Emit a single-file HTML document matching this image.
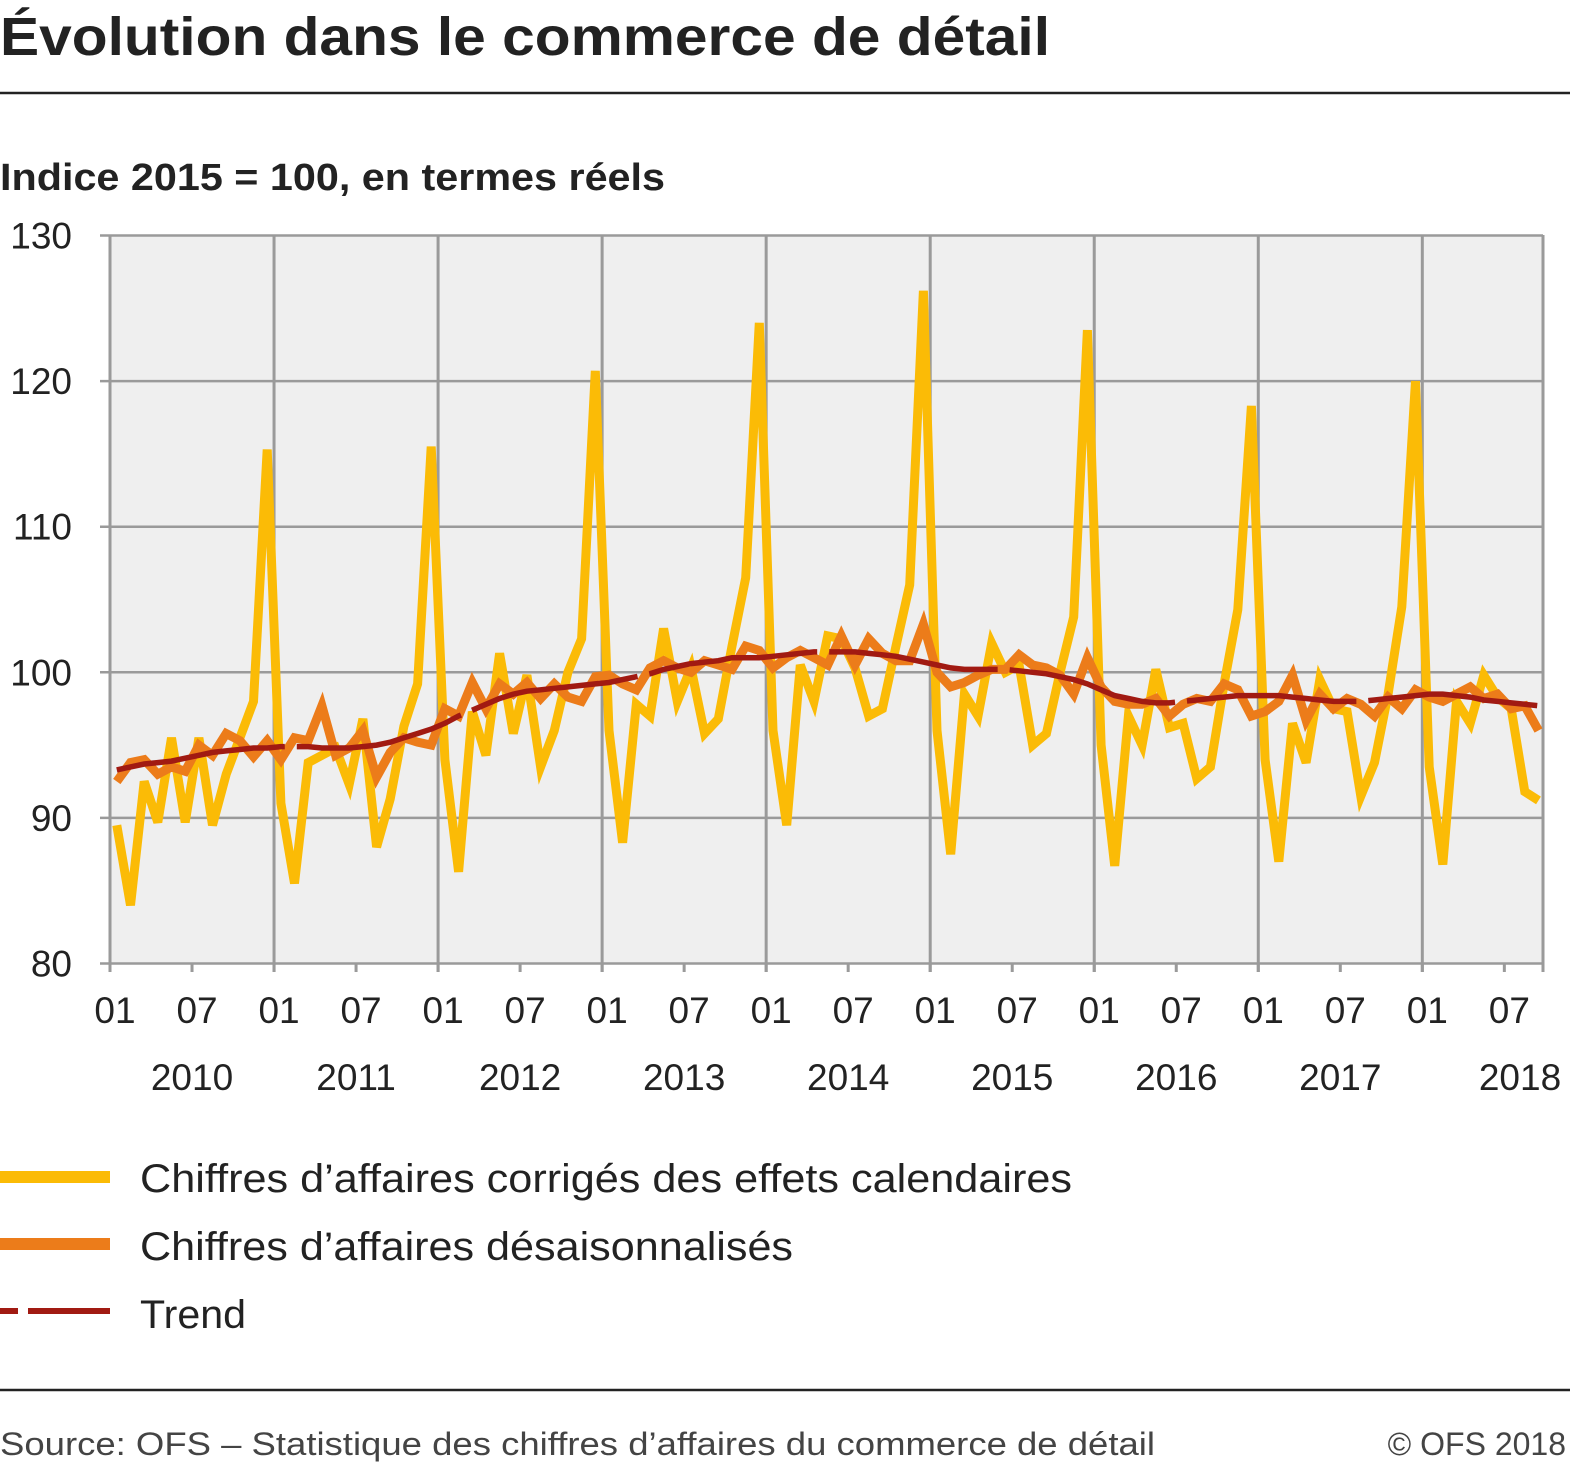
<!DOCTYPE html>
<html><head><meta charset="utf-8">
<style>
html,body{margin:0;padding:0;background:#fff;}
body{width:1570px;height:1467px;position:relative;overflow:hidden;font-family:"Liberation Sans",sans-serif;color:#222;}
svg text{font-family:"Liberation Sans",sans-serif;}
</style></head>
<body>
<svg id="chart" width="1570" height="1467" xmlns="http://www.w3.org/2000/svg">
<text x="0" y="55" font-size="54" font-weight="bold" fill="#222" textLength="1050" lengthAdjust="spacingAndGlyphs">Évolution dans le commerce de détail</text>
<line x1="0" y1="93" x2="1570" y2="93" stroke="#222" stroke-width="2.5"/>
<text x="0" y="190" font-size="38" font-weight="bold" fill="#222" textLength="665" lengthAdjust="spacingAndGlyphs">Indice 2015 = 100, en termes réels</text>
<rect x="110" y="235" width="1433" height="729" fill="#efefef"/>
<g id="grid"></g>
<g id="series"></g>
<g id="axes"></g>
<g>
<line x1="0" y1="1177" x2="110" y2="1177" stroke="#fbbb06" stroke-width="12"/>
<text x="140" y="1192" font-size="40" fill="#222" textLength="932" lengthAdjust="spacingAndGlyphs">Chiffres d’affaires corrigés des effets calendaires</text>
<line x1="0" y1="1244" x2="110" y2="1244" stroke="#ec7c1a" stroke-width="12"/>
<text x="140" y="1260" font-size="40" fill="#222" textLength="653" lengthAdjust="spacingAndGlyphs">Chiffres d’affaires désaisonnalisés</text>
<line x1="0" y1="1311" x2="110" y2="1311" stroke="#a11a12" stroke-width="6" stroke-dasharray="18 10 82 0"/>
<text x="140" y="1328" font-size="40" fill="#222" textLength="106" lengthAdjust="spacingAndGlyphs">Trend</text>
</g>
<line x1="0" y1="1390" x2="1570" y2="1390" stroke="#222" stroke-width="2.5"/>
<text x="0" y="1455" font-size="32" fill="#444" textLength="1155" lengthAdjust="spacingAndGlyphs">Source: OFS – Statistique des chiffres d’affaires du commerce de détail</text>
<text x="1566" y="1455" font-size="32" fill="#444" text-anchor="end">© OFS 2018</text>
</svg>
<script>
const yellowValues = [
89.5,84,92.5,89.7,95.5,89.7,95.5,89.5,93,95.5,98,115.3,
91,85.5,93.8,94.3,94.8,92.3,96.8,88,91.3,96.3,99.2,115.5,
94,86.3,97.3,94.3,101.3,95.8,99.8,93.5,96,100,102.3,120.7,
96,88.3,97.8,97,103,98,100.3,95.8,96.8,101.8,106.5,124,
96,89.5,100.5,98,102.5,102.3,100.3,97,97.5,101.8,106,126.2,
96,87.5,98.5,97,102,100,100.5,95,95.8,100,103.8,123.5,
95,86.7,97,95,100.2,96.2,96.5,92.7,93.5,99.2,104.3,118.3,
94,87,96.5,93.8,99.5,97.5,97.3,91.5,93.8,98.5,104.5,120,
93.5,86.8,98,96.5,99.8,98.3,97.5,91.8,91.2];
const orangeValues = [
92.5,93.8,94,93,93.5,93.2,95,94.3,95.8,95.3,94.2,95.3,
94,95.5,95.3,97.7,94.3,94.8,96,92.8,94.5,95.5,95.2,95,
97.5,97,99.3,97.5,99.2,98.5,99.3,98.2,99.2,98.3,98,99.7,
99.8,99.2,98.8,100.3,100.8,100.3,100,100.8,100.5,100.2,101.8,101.5,
100.3,101,101.5,101,100.5,102.5,100.5,102.3,101.3,100.8,100.8,103.3,
100,99,99.3,99.8,100.2,100.2,101.2,100.5,100.3,99.8,98.5,101,
99,98,97.8,97.8,98.2,97,97.8,98.2,98,99.2,98.8,97,
97.3,98,99.8,96.7,98.5,97.5,98.2,97.8,97,98.3,97.5,98.8,
98.3,98,98.5,99,98.2,98.5,97.5,97.7,96];
const trendValues = [
93.3,93.5,93.7,93.8,93.9,94.1,94.3,94.5,94.6,94.7,94.8,94.8,
94.9,94.9,94.9,94.8,94.8,94.8,94.9,95,95.2,95.5,95.8,96.1,
96.5,97,97.4,97.8,98.2,98.5,98.7,98.8,98.9,99,99.1,99.2,
99.3,99.5,99.7,99.9,100.2,100.4,100.6,100.7,100.8,101,101,101,
101.1,101.2,101.3,101.4,101.4,101.4,101.4,101.3,101.2,101.1,100.9,100.7,
100.5,100.3,100.2,100.2,100.2,100.2,100.1,100,99.9,99.7,99.5,99.2,
98.8,98.4,98.2,98,97.9,97.9,98,98.1,98.2,98.3,98.4,98.4,
98.4,98.4,98.3,98.2,98.1,98,98,98,98.1,98.2,98.3,98.4,
98.5,98.5,98.4,98.3,98.1,98,97.9,97.8,97.7];
const yTicks = [80,90,100,110,120,130];
const years = ["2010","2011","2012","2013","2014","2015","2016","2017","2018"];
const monthLabels = ["01","07"];

const NS = "http://www.w3.org/2000/svg";
const X0 = 110, MONTH = 13.67, Y0 = 963.5, YU = 14.56;
const xS = i => X0 + i * MONTH;
const xP = i => X0 + (i + 0.5) * MONTH;
const yS = v => Y0 - (v - 80) * YU;
function mk(tag, attrs, parent){const e=document.createElementNS(NS,tag);for(const k in attrs)e.setAttribute(k,attrs[k]);parent.appendChild(e);return e;}
const grid=document.getElementById('grid'), series=document.getElementById('series'), axes=document.getElementById('axes');

yTicks.forEach(t=>{
  const l=mk('line',{x1:100,x2:1543,y1:yS(t),y2:yS(t),stroke:'#9a9a9a','stroke-width':2.5},grid);
  
  
  const tx=mk('text',{x:72,y:yS(t)+13,'font-size':37,fill:'#222','text-anchor':'end'},axes);
  tx.textContent=t;
  
  
});
for(let y=0;y<=years.length;y++){
  const x = y<years.length ? xS(y*12) : 1543;
  const l=mk('line',{x1:x,x2:x,y1:235,y2:972,stroke:'#9a9a9a','stroke-width':3},grid);
  
  
}
years.forEach((yr,y)=>{
  monthLabels.forEach((m,j)=>{
    const i=y*12+j*6;
    if(i>104) return;
    const tk=mk('line',{x1:xS(i),x2:xS(i),y1:963,y2:972,stroke:'#9a9a9a','stroke-width':3},axes);
    
    
    const t=mk('text',{x:xS(i)+5,y:1023,'font-size':37,fill:'#222','text-anchor':'middle'},axes);
    t.textContent=m;
    
    
  });
  const t=mk('text',{x:y===8?1520:xS(y*12+6),y:1090,'font-size':37,fill:'#222','text-anchor':'middle'},axes);
  t.textContent=yr;
  
  
});
function pts(arr){return arr.map((v,i)=>xP(i).toFixed(1)+','+yS(v).toFixed(1)).join(' ');}
const py=mk('polyline',{points:pts(yellowValues),fill:'none',stroke:'#fbbb06','stroke-width':9,'stroke-linejoin':'miter','stroke-miterlimit':4},series);


const po=mk('polyline',{points:pts(orangeValues),fill:'none',stroke:'#ec7c1a','stroke-width':9,'stroke-linejoin':'miter','stroke-miterlimit':4},series);


const pt=mk('polyline',{points:pts(trendValues),fill:'none',stroke:'#a11a12','stroke-width':5.5,'stroke-dasharray':'170 12'},series);


</script>
</body></html>
